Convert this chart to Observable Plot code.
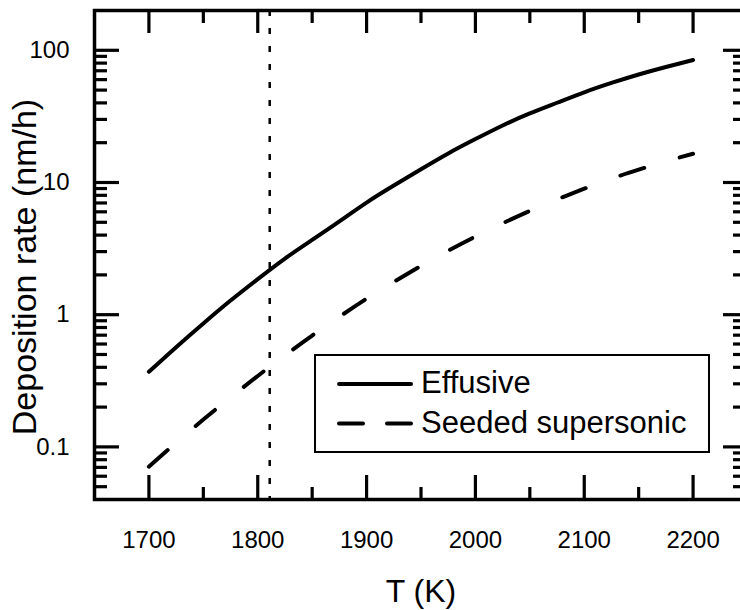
<!DOCTYPE html>
<html>
<head>
<meta charset="utf-8">
<script src="https://cdn.jsdelivr.net/npm/d3@7"></script>
<script src="https://cdn.jsdelivr.net/npm/@observablehq/plot@0.6"></script>
<style>
  html, body { margin: 0; padding: 0; background: #fff; }
  #wrap { position: relative; width: 740px; height: 610px; overflow: hidden; }
  #legend { position: absolute; left: 0; top: 0; pointer-events: none; }
</style>
</head>
<body>
<div id="wrap"><div id="chart"></div></div>
<script>
// ---- data ----
const temperatures = [1700, 1725, 1750, 1775, 1800, 1825, 1850, 1875, 1900, 1925, 1950,
                      1975, 2000, 2025, 2050, 2075, 2100, 2125, 2150, 2175, 2200];
const effusive = [0.370, 0.568, 0.859, 1.28, 1.86, 2.66, 3.68, 5.08, 7.05, 9.48, 12.6,
                  16.6, 21.3, 27.0, 33.3, 40.1, 48.1, 56.6, 65.6, 74.8, 84.5];
const seeded = [0.0708, 0.1076, 0.161, 0.237, 0.344, 0.493, 0.695, 0.964, 1.32, 1.77, 2.34,
                3.05, 3.90, 4.91, 6.10, 7.45, 8.97, 10.7, 12.5, 14.45, 16.5];
const seriesNames = ["Effusive", "Seeded supersonic"];
const markerT = [1811];
const xTicks = [1700, 1800, 1900, 2000, 2100, 2200];
const xMinorTicks = [1750, 1850, 1950, 2050, 2150];
const yTicks = [0.1, 1, 10, 100];
const yTickLabels = ["0.1", "1", "10", "100"];
const yMinorTicks = [0.05, 0.06, 0.07, 0.08, 0.09,
                     0.2, 0.3, 0.4, 0.5, 0.6, 0.7, 0.8, 0.9,
                     2, 3, 4, 5, 6, 7, 8, 9,
                     20, 30, 40, 50, 60, 70, 80, 90];
const xTitle = "T (K)";
const yTitle = "Deposition rate (nm/h)";

// ---- layout ----
const W = 740, H = 610;
const mL = 94, mR = -7, mT = 10, mB = 111;
const pw = W - mL - mR, ph = H - mT - mB;
const font = "'Liberation Sans', Arial, sans-serif";

const effRows = temperatures.map((t, i) => ({T: t, rate: effusive[i]}));
const seedRows = temperatures.map((t, i) => ({T: t, rate: seeded[i]}));
const ink = "#000";

const chart = Plot.plot({
  width: W, height: H,
  marginLeft: mL, marginRight: mR, marginTop: mT, marginBottom: mB,
  style: {fontFamily: font, fontSize: "24px", color: ink, background: "#fff", overflow: "hidden"},
  x: {domain: [1650, 2250]},
  y: {type: "log", domain: [0.04, 200]},
  marks: [
    Plot.ruleX(markerT, {x: d => d, stroke: ink, strokeWidth: 2.5, strokeDasharray: "6,12"}),
    Plot.line(effRows, {x: "T", y: "rate", stroke: ink, strokeWidth: 4, strokeLinecap: "round", curve: "natural"}),
    Plot.line(seedRows, {x: "T", y: "rate", stroke: ink, strokeWidth: 4, strokeLinecap: "round", strokeDasharray: "25,37", curve: "natural"}),
    // inner ticks, left & right
    Plot.tickY(yTicks, {y: d => d, stroke: ink, strokeWidth: 3.2, insetRight: pw - 25}),
    Plot.tickY(yMinorTicks, {y: d => d, stroke: ink, strokeWidth: 3.2, insetRight: pw - 13}),
    Plot.tickY(yTicks, {y: d => d, stroke: ink, strokeWidth: 3.2, insetLeft: pw - 24}),
    Plot.tickY(yMinorTicks, {y: d => d, stroke: ink, strokeWidth: 3.2, insetLeft: pw - 14}),
    // inner ticks, bottom & top
    Plot.tickX(xTicks, {x: d => d, stroke: ink, strokeWidth: 3.2, insetTop: ph - 24}),
    Plot.tickX(xMinorTicks, {x: d => d, stroke: ink, strokeWidth: 3.2, insetTop: ph - 12}),
    Plot.tickX(xTicks, {x: d => d, stroke: ink, strokeWidth: 3.2, insetBottom: ph - 23}),
    Plot.tickX(xMinorTicks, {x: d => d, stroke: ink, strokeWidth: 3.2, insetBottom: ph - 13}),
    Plot.frame({stroke: ink, strokeWidth: 3.5}),
    Plot.axisX(xTicks, {tickSize: 0, tickPadding: 31, tickFormat: d => String(d), label: null}),
    Plot.axisY(yTicks, {tickSize: 0, tickPadding: 25, tickFormat: d => yTickLabels[yTicks.indexOf(d)], label: null}),
    Plot.text([xTitle], {frameAnchor: "bottom", dy: 92, fontSize: 32, lineAnchor: "middle", textAnchor: "middle", fill: ink}),
    Plot.text([yTitle], {frameAnchor: "left", dx: -69, dy: 12, rotate: -90, fontSize: 34, lineAnchor: "middle", textAnchor: "middle", fill: ink})
  ]
});
document.getElementById("chart").appendChild(chart);

// ---- legend box (inside plot area) ----
const ns = "http://www.w3.org/2000/svg";
const leg = document.createElementNS(ns, "svg");
leg.setAttribute("id", "legend");
leg.setAttribute("width", W);
leg.setAttribute("height", H);
const mk = (tag, attrs) => { const e = document.createElementNS(ns, tag); for (const k in attrs) e.setAttribute(k, attrs[k]); leg.appendChild(e); return e; };
mk("rect", {x: 315, y: 355, width: 394, height: 97, fill: "#fff", stroke: ink, "stroke-width": 2});
const dashes = [null, "24,24"];
const rowY = [384, 423.5];
const baseY = [393, 432.5];
seriesNames.forEach((name, i) => {
  const l = mk("line", {x1: 339, x2: 411, y1: rowY[i], y2: rowY[i], stroke: ink, "stroke-width": 4, "stroke-linecap": "round"});
  if (dashes[i]) l.setAttribute("stroke-dasharray", dashes[i]);
  const t = mk("text", {x: 421, y: baseY[i], "font-family": font, "font-size": 31, fill: ink});
  t.textContent = name;
});
document.getElementById("wrap").appendChild(leg);
</script>
</body>
</html>
